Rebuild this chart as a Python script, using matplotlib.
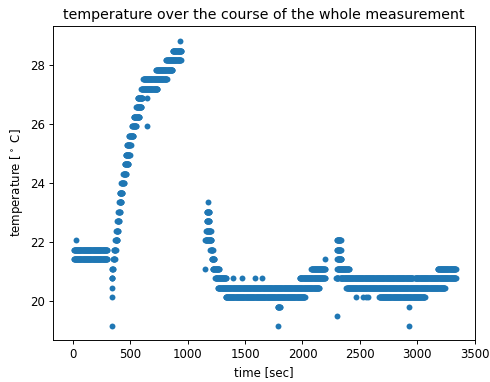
import numpy as np
import matplotlib
matplotlib.use('Agg')
import matplotlib.pyplot as plt

# runs of samples at one temperature level (start [sec], end [sec], temperature)
run_start = [10, 10,
             340, 343, 352, 360, 370, 378, 387, 398, 404, 409, 424, 439, 453,
             460, 473, 491, 517, 531, 552, 566, 598, 613, 726, 813, 870,
             1155, 1164, 1167, 1167, 1199, 1210, 1219, 1242, 1265, 1330, 1785,
             1976, 2078,
             2300, 2300, 2302, 2302, 2295, 2330, 2980, 2383, 2670, 3178]
run_end = [300, 300,
           348, 353, 365, 375, 390, 394, 403, 412, 423, 435, 447, 464, 484,
           497, 505, 528, 551, 580, 597, 606, 736, 818, 867, 940, 945,
           1206, 1201, 1190, 1190, 1219, 1236, 1274, 1337, 2144, 2020, 1805,
           2197, 2197,
           2335, 2335, 2340, 2406, 2310, 2960, 3335, 3238, 3065, 3335]
run_temp = [21.74, 21.42,
            20.78, 21.10, 21.42, 21.74, 22.06, 22.39, 22.71, 23.03, 23.35, 23.67,
            23.99, 24.31, 24.63, 24.95, 25.27, 25.59, 25.91, 26.23, 26.55, 26.87,
            27.19, 27.51, 27.83, 28.15, 28.47,
            22.06, 22.39, 22.71, 23.03, 21.74, 21.42, 21.10, 20.78, 20.46, 20.14,
            19.82, 20.78, 21.10,
            22.06, 21.74, 21.42, 21.10, 20.78, 20.78, 20.78, 20.46, 20.14, 21.10]

# isolated samples
single_t = [26, 338, 338, 342, 645, 645, 936,
            1155, 1178, 1393, 1475, 1590, 1645, 1785, 2200,
            2298, 2470, 2530, 2550, 2570, 2925, 2925]
single_temp = [22.06, 20.14, 19.18, 20.46, 26.87, 25.91, 28.79,
               21.10, 23.35, 20.78, 20.78, 20.78, 20.78, 19.18, 21.42,
               19.50, 20.14, 20.14, 20.14, 20.14, 19.82, 19.18]

# Messwerte zusammenbauen
t = []
temp = []
for a, b, v in zip(run_start, run_end, run_temp):
    ts = np.arange(a, b + 1, 3)
    t.extend(ts)
    temp.extend([v] * len(ts))
t.extend(single_t)
temp.extend(single_temp)

fig = plt.figure(figsize=(490 / 85, 382 / 85), dpi=85)
ax = fig.add_axes([53 / 490, 42 / 382, 422 / 490, 314 / 382])
ax.scatter(t, temp, s=25, color='#1f77b4', linewidths=0)
ax.set_xlim(-172, 3502)
ax.set_ylim(18.7, 29.3)
ax.set_title('temperature over the course of the whole measurement')
ax.set_xlabel('time [sec]')
ax.set_ylabel(r'temperature [$^\circ$ C]')
fig.savefig('out.png', dpi=85)
